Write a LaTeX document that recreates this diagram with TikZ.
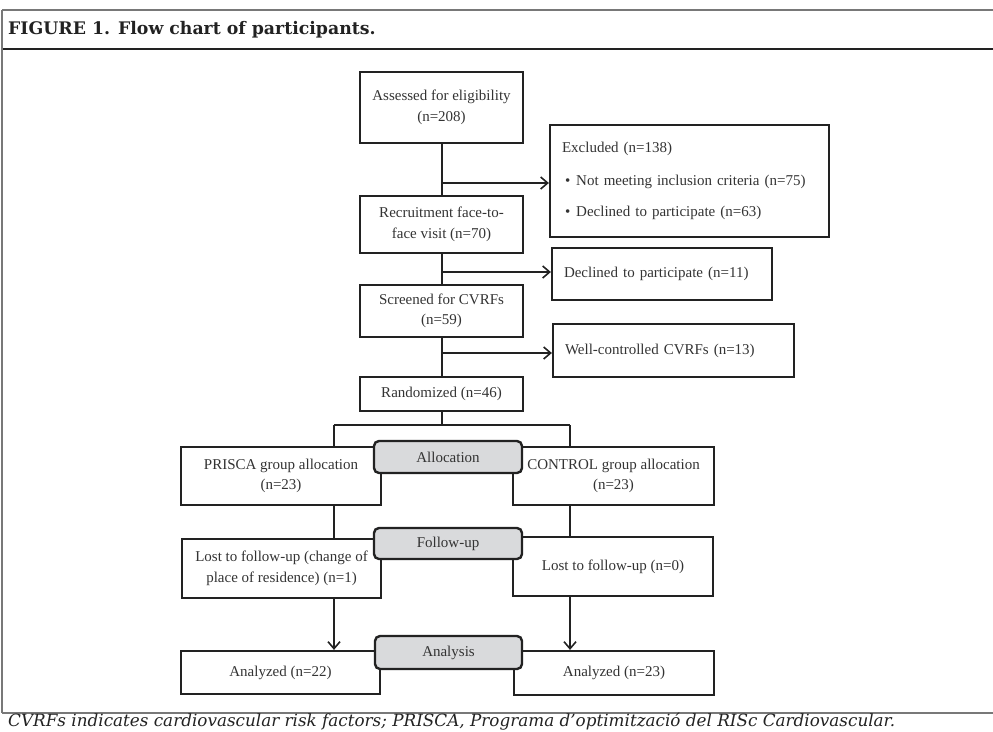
\documentclass[tikz,border=0pt]{standalone}
\usepackage{fontspec}
\setmainfont{Liberation Serif}
\newfontfamily\headfont{DejaVu Serif}
\usepackage{tikz}
\usetikzlibrary{positioning,arrows.meta}
\definecolor{ink}{RGB}{34,34,34}
\definecolor{txt}{RGB}{51,51,51}
\definecolor{rule}{RGB}{120,120,120}
\definecolor{stagefill}{RGB}{217,218,220}

\begin{document}
\begin{tikzpicture}[x=1pt,y=-1pt,
  box/.style={draw=ink,line width=2.2pt,inner sep=0pt,align=center,text=txt,
     font=\fontsize{15}{20.5}\selectfont},
  sidebox/.style={box,align=left,inner xsep=12pt},
  stage/.style={box,fill=stagefill,rounded corners=5pt,line width=2.4pt},
  conn/.style={draw=ink,line width=2pt},
  arr/.style={draw=ink,line width=1.8pt,-{Straight Barb[length=7pt,width=12pt,line width=1.6pt]}}]
\useasboundingbox (0,0) rectangle (993,731);
\draw[rule,line width=1.2pt] (2,10) -- (993,10);
\draw[ink,line width=2.6pt] (2,49) -- (993,49);
\draw[rule,line width=1.4pt] (2,713) -- (993,713);
\draw[rule,line width=1.2pt] (2,10) -- (2,713);
\node[anchor=base west,inner sep=0pt,text=ink] (title) at (8,34)
  {\headfont\bfseries\fontsize{17.3}{20}\selectfont FIGURE 1. Flow chart of participants.};
\node[anchor=base west,inner sep=0pt,text=ink] (note) at (8,726)
  {\headfont\itshape\fontsize{16.8}{20}\selectfont CVRFs indicates cardiovascular risk factors; PRISCA, Programa d’optimització del RISc Cardiovascular.};
\node[box,minimum width=163,minimum height=71] (assess) at (441.5,107.5) {Assessed for eligibility\\(n=208)};
\node[box,minimum width=163,minimum height=57] (recruit) at (441.5,224.5) {Recruitment face-to-\\face visit (n=70)};
\node[box,minimum width=163,minimum height=52] (screen) at (441.5,311) {Screened for CVRFs\\(n=59)};
\node[box,minimum width=163,minimum height=34] (rand) at (441.5,394) {Randomized (n=46)};
\node[sidebox,minimum width=279,minimum height=112,text width=255] (excl) at (689.5,181)
  {Excluded (n=138)\\[12pt]
   \hspace*{3pt}\textbullet\hspace{6pt}Not meeting inclusion criteria (n=75)\\[11pt]
   \hspace*{3pt}\textbullet\hspace{6pt}Declined to participate (n=63)};
\node[sidebox,minimum width=220,minimum height=52,text width=196,inner xsep=11pt] (decl) at (662,274) {Declined to participate (n=11)};
\node[sidebox,minimum width=241,minimum height=53,text width=217] (well) at (673.5,350.5) {Well-controlled CVRFs (n=13)};
\node[box,minimum width=200,minimum height=58] (prisca) at (281,476) {PRISCA group allocation\\(n=23)};
\node[box,minimum width=201,minimum height=58] (control) at (613.5,476) {CONTROL group allocation\\(n=23)};
\node[box,minimum width=199,minimum height=59] (lostl) at (281.5,568.5) {Lost to follow-up (change of\\place of residence) (n=1)};
\node[box,minimum width=200,minimum height=59] (lostr) at (613,566.5) {Lost to follow-up (n=0)};
\node[box,minimum width=199,minimum height=43] (anl) at (280.5,672.5) {Analyzed (n=22)};
\node[box,minimum width=200,minimum height=44] (anr) at (614,673) {Analyzed (n=23)};
\draw[conn] (assess) -- (recruit);
\draw[conn] (recruit) -- (screen);
\draw[conn] (screen) -- (rand);
\coordinate (t1) at (443,183);
\coordinate (t2) at (443,272);
\coordinate (t3) at (443,353);
\draw[arr] (t1) -- (t1 -| excl.west);
\draw[arr] (t2) -- (t2 -| decl.west);
\draw[arr] (t3) -- (t3 -| well.west);
\coordinate (split) at (441.5,425);
\coordinate (bl) at (334,425);
\coordinate (br) at (570,425);
\draw[conn] (rand) -- (split);
\draw[conn] (bl) -- (br);
\draw[conn] (bl) -- (bl |- prisca.north);
\draw[conn] (br) -- (br |- control.north);
\draw[conn] (bl |- prisca.south) -- (bl |- lostl.north);
\draw[conn] (br |- control.south) -- (br |- lostr.north);
\draw[arr] (bl |- lostl.south) -- (bl |- anl.north);
\draw[arr] (br |- lostr.south) -- (br |- anr.north);
\node[stage,minimum width=148,minimum height=32] (alloc) at (448,457) {Allocation};
\node[stage,minimum width=148,minimum height=31] (follow) at (448,543.5) {Follow-up};
\node[stage,minimum width=147,minimum height=33] (analysis) at (448.5,652.5) {Analysis};
\end{tikzpicture}
\end{document}
